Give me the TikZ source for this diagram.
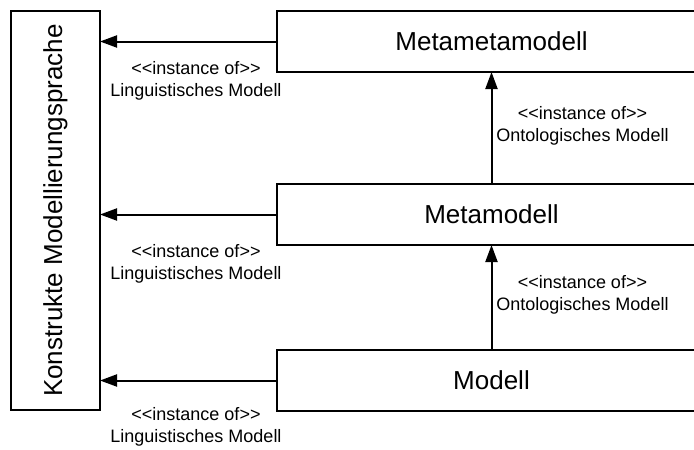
\documentclass[tikz,border=0pt]{standalone}
\usepackage{fontspec}
\setmainfont{Liberation Sans}
\usetikzlibrary{arrows.meta}
\newcommand\instof{<\kern0pt<instance of>\kern0pt>}
\begin{document}
\begin{tikzpicture}[x=1pt,y=-1pt,
  box/.style={draw,line width=2pt,inner sep=0pt,outer sep=0pt,
    font=\fontsize{26}{30}\selectfont},
  rel/.style={line width=2pt,-{Triangle[length=17pt,width=12pt]}},
  lbl/.style={font=\fontsize{18}{21.5}\selectfont,align=center,inner sep=0pt}]
\useasboundingbox (0,0) rectangle (694,450);
\clip (0,0) rectangle (694,450);

% language constructs (rotated label)
\node[box,rotate=90,minimum width=399,minimum height=89] (lang) at (55.5,210.5)
  {Konstrukte Modellierungsprache};

% model levels
\node[box,minimum width=430,minimum height=61] (mmm) at (491.5,41.5) {Metametamodell};
\node[box,minimum width=430,minimum height=61] (mm)  at (491.5,214.5) {Metamodell};
\node[box,minimum width=430,minimum height=61] (m)   at (491.5,380.5) {Modell};

% linguistic instantiation
\draw[rel] (mmm.west) -- (lang.south |- mmm.west);
\draw[rel] (mm.west)  -- (lang.south |- mm.west);
\draw[rel] (m.west)   -- (lang.south |- m.west);

% ontological instantiation
\draw[rel] (mm.north) -- (mmm.south);
\draw[rel] (m.north)  -- (mm.south);

% labels
\node[lbl] (l1) at (196,81)  {\instof\\Linguistisches Modell};
\node[lbl] (l2) at (196,264) {\instof\\Linguistisches Modell};
\node[lbl] (l3) at (196,427) {\instof\\Linguistisches Modell};
\node[lbl] (o1) at (582.5,126) {\instof\\Ontologisches Modell};
\node[lbl] (o2) at (582.5,295) {\instof\\Ontologisches Modell};
\end{tikzpicture}
\end{document}
